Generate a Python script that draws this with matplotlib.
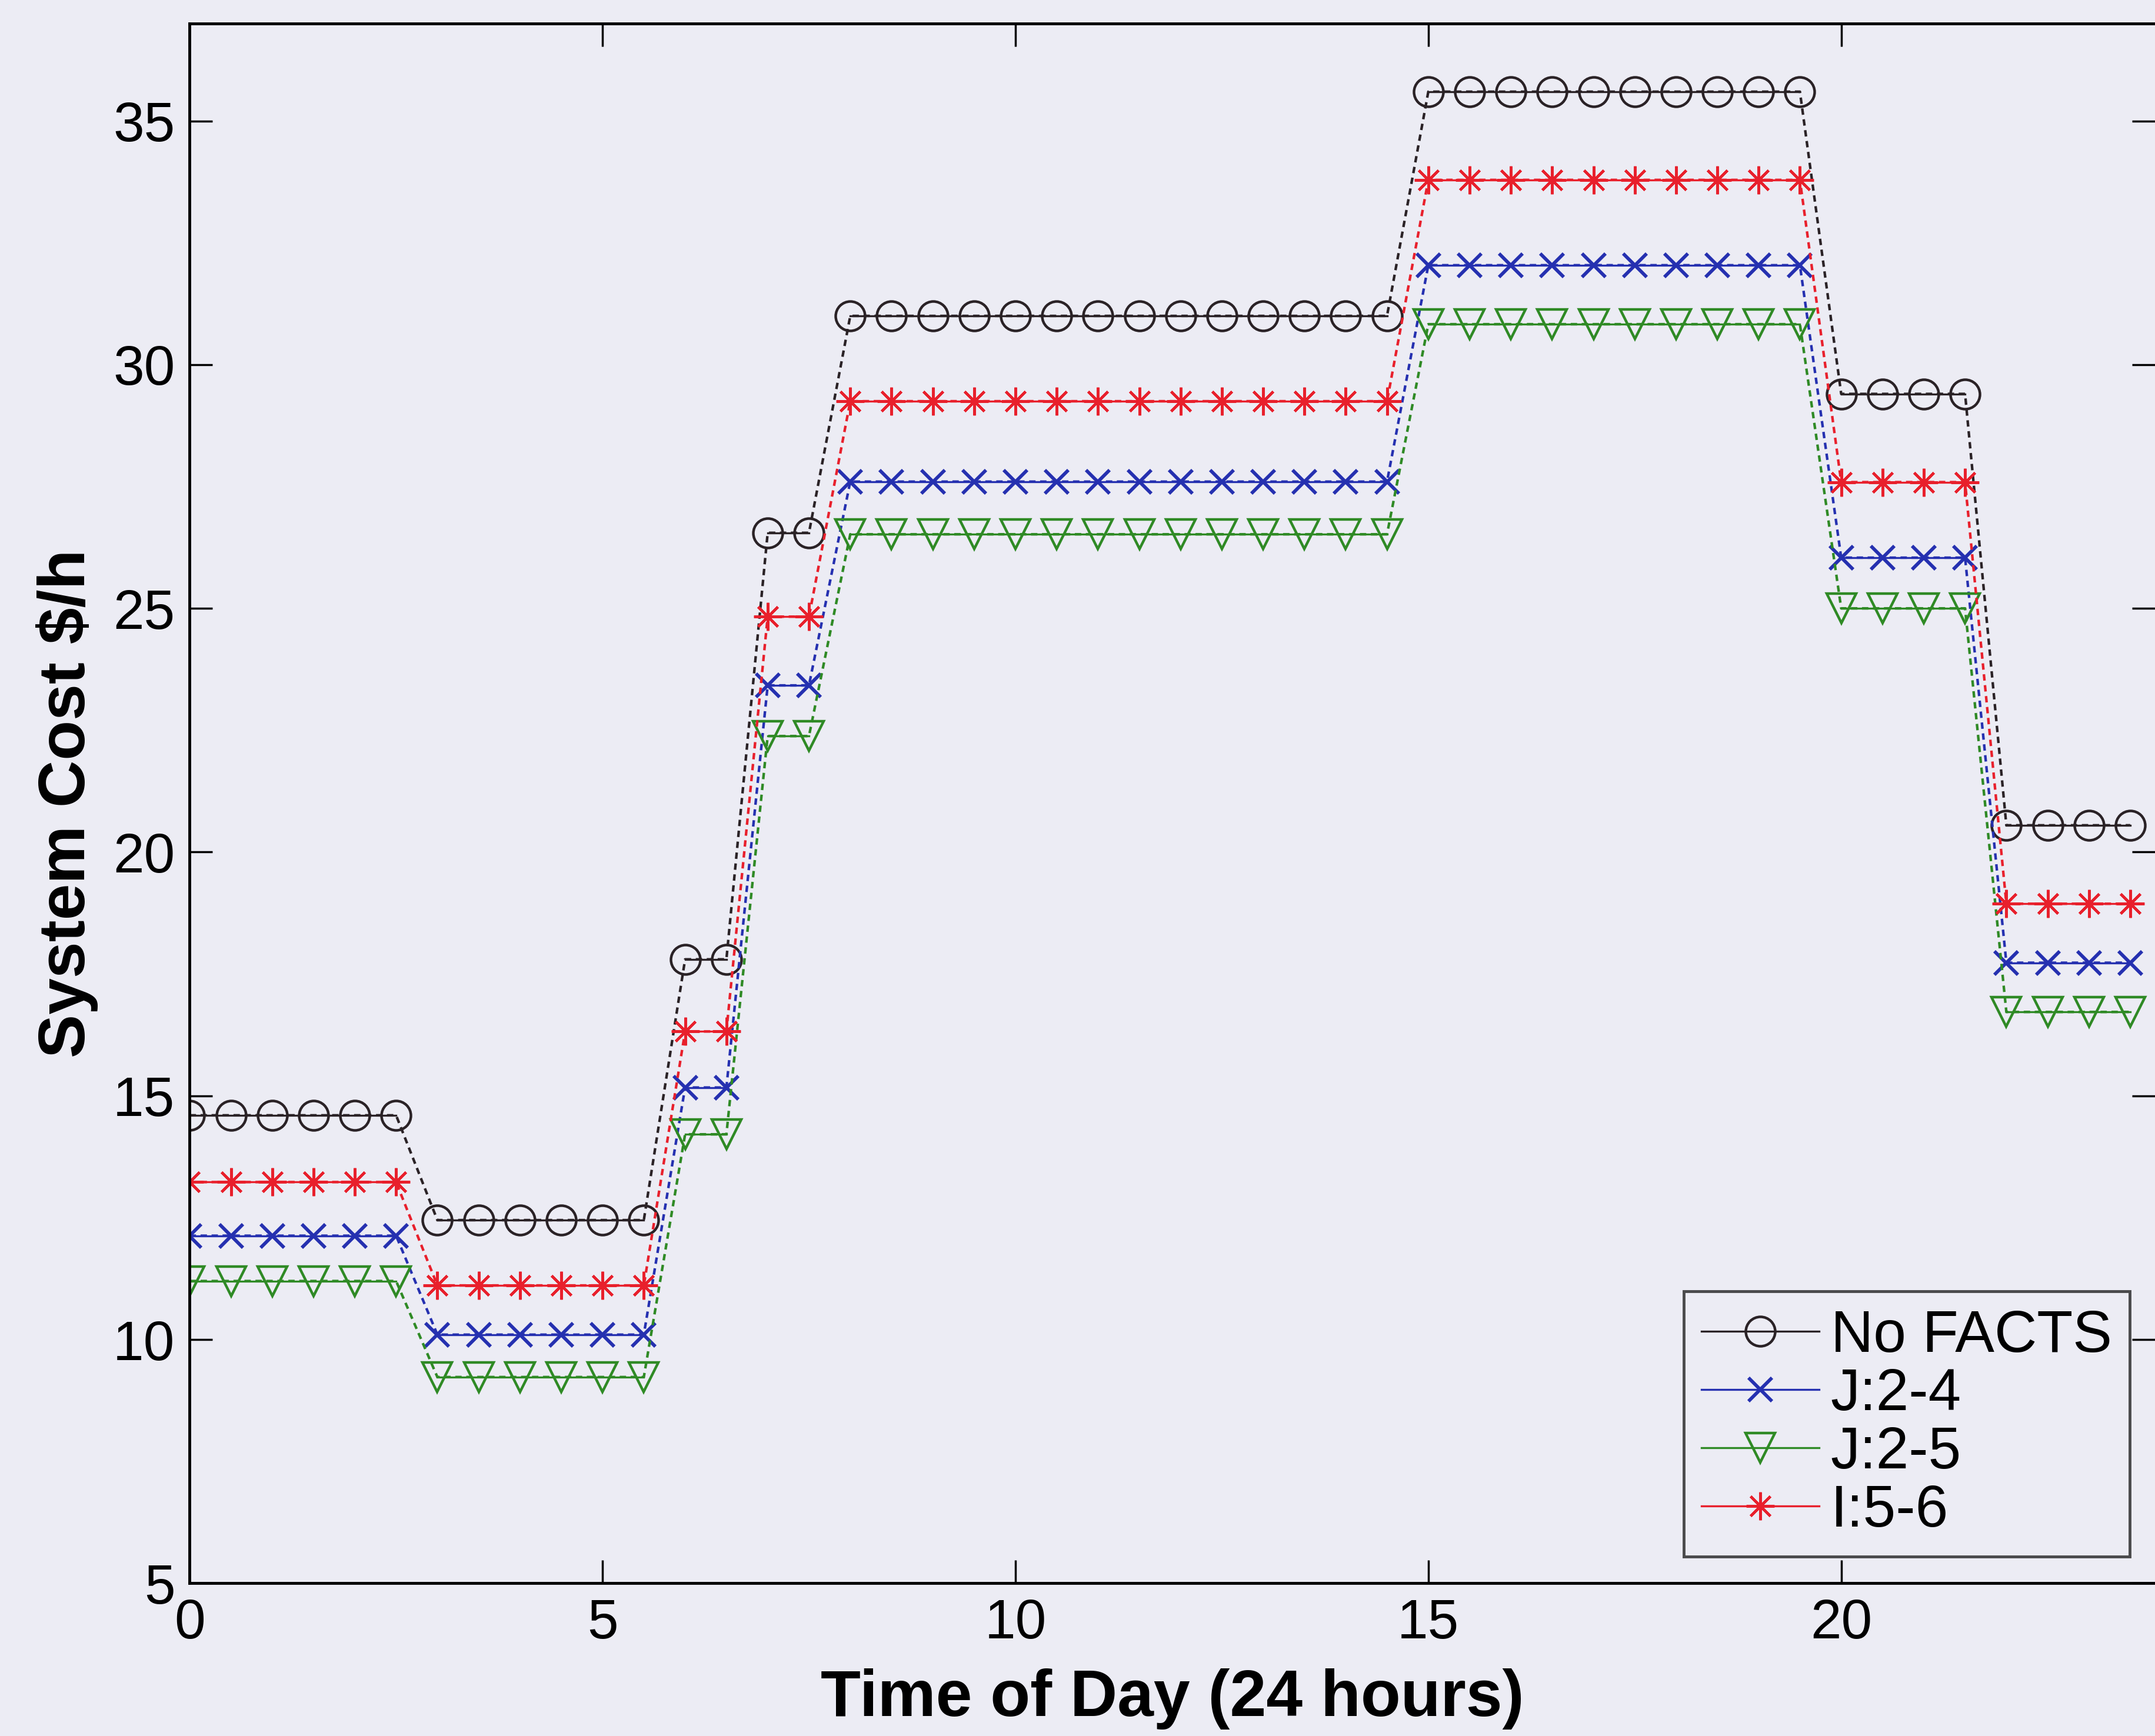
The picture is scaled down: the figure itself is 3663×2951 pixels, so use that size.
import matplotlib
matplotlib.use("Agg")
import matplotlib.pyplot as plt
import numpy as np

# hours of the day, half hour steps
hours = [i * 0.5 for i in range(48)]

# cost level per block of hours, repeated over the block
blocks = [6, 6, 2, 2, 14, 10, 4, 4]

no_facts_lvl = [14.6, 12.45, 17.8, 26.55, 31.0, 35.6, 29.4, 20.55]
j24_lvl = [12.13, 10.1, 15.17, 23.42, 27.6, 32.04, 26.04, 17.73]
j25_lvl = [11.2, 9.23, 14.21, 22.38, 26.52, 30.83, 25.0, 16.72]
i56_lvl = [13.23, 11.11, 16.32, 24.83, 29.25, 33.79, 27.59, 18.94]


def expand(levels):
    out = []
    for n, v in zip(blocks, levels):
        out += [v] * n
    return out


def split(vals):
    # NaN between blocks so the flat runs are solid and the jumps dashed
    out = []
    i = 0
    for n in blocks:
        out += list(vals[i:i + n]) + [np.nan]
        i += n
    return out[:-1]


bg = "#ECECF4"
plt.rcParams["font.family"] = ["Liberation Sans", "DejaVu Sans"]

fig = plt.figure(figsize=(36.63, 29.51), dpi=100, facecolor=bg)
ax = fig.add_axes([0.088, 0.088, 0.912, 0.8985])
ax.set_facecolor(bg)

ms = 36
mew = 3.2
lw = 2.4
series = [
    ("No FACTS", no_facts_lvl, "#2a2226", "o", ms, mew),
    ("J:2-4", j24_lvl, "#2530b0", "x", ms * 0.8, mew + 1),
    ("J:2-5", j25_lvl, "#2f8a25", "v", ms, mew),
    ("I:5-6", i56_lvl, "#e8202c", (8, 2, 0), ms * 0.95, mew),
]
xs = split(hours)
for name, lvl, col, mk, size, ew in series:
    vals = expand(lvl)
    ax.plot(hours, vals, "--", color=col, lw=lw * 1.3, dashes=(2.5, 1.8))
    ax.plot(xs, split(vals), "-", color=col, marker=mk, ms=size, mfc="none",
            mew=ew, lw=lw, label=name)

ax.set_xlim(0, 23.8)
ax.set_ylim(5, 37)
ax.set_xticks([0, 5, 10, 15, 20])
ax.set_yticks([5, 10, 15, 20, 25, 30, 35])
ax.tick_params(direction="in", length=28, width=2.5, labelsize=68, pad=18,
               top=True, right=True)
for s in ["left", "bottom", "top"]:
    ax.spines[s].set_linewidth(3.5)
ax.spines["right"].set_visible(False)

ax.set_xlabel("Time of Day (24 hours)", fontsize=80, fontweight="bold", labelpad=22)
ax.set_ylabel(r"System Cost \$/h", fontsize=80, fontweight="bold", labelpad=18)

leg = ax.legend(loc="lower right", fontsize=72, frameon=True, fancybox=False,
                edgecolor="#222222", facecolor=bg, handlelength=2.0,
                borderpad=0.3, labelspacing=0.05, handletextpad=0.2,
                borderaxespad=0, bbox_to_anchor=(0.987, 0.017))
leg.get_frame().set_linewidth(3.5)

fig.savefig("out.png", dpi=100, facecolor=bg)
